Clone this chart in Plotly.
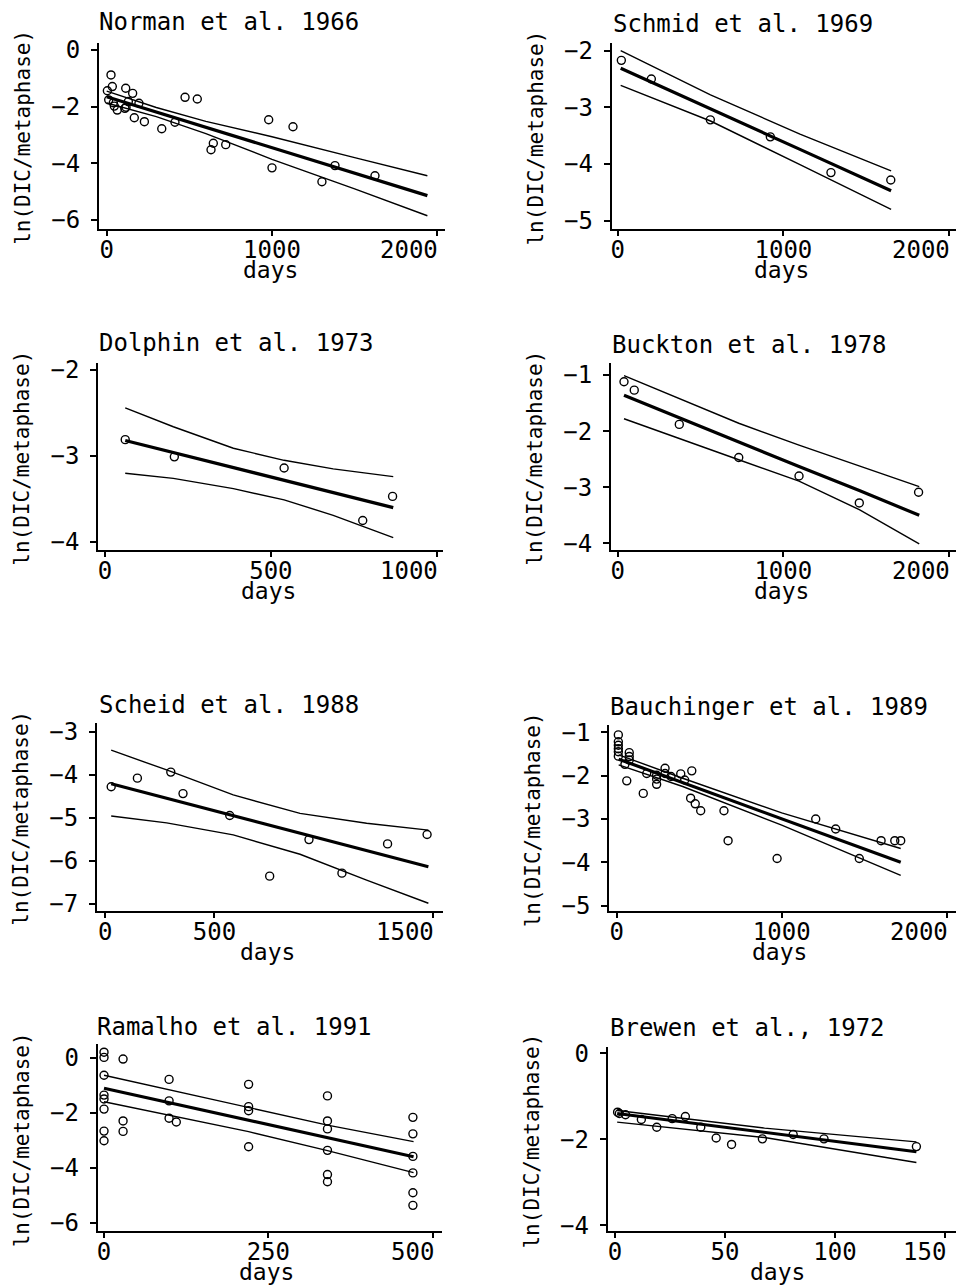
import plotly.graph_objects as go

FONT = "DejaVu Sans Mono"
W, H = 956, 1285

# ---------------- data (days, ln(DIC/metaphase)) ----------------
norman_days = [4, 26, 34, 12, 40, 46, 64, 110, 115, 117, 131, 157, 167, 195, 228, 333, 413,
               474, 548, 631, 645, 720, 980, 1000, 1127, 1302, 1381, 1623]
norman_ln = [-1.44, -0.88, -1.29, -1.76, -1.86, -1.98, -2.12, -2.06, -1.35, -2.02, -1.82, -1.53,
             -2.39, -1.88, -2.53, -2.78, -2.55, -1.67, -1.73, -3.52, -3.29, -3.34, -2.46, -4.16,
             -2.71, -4.65, -4.08, -4.44]
norman_fit_days = [0, 300, 600, 1000, 1500, 1940]
norman_fit = [-1.65, -2.19, -2.73, -3.45, -4.35, -5.14]
norman_upper = [-1.45, -2.03, -2.52, -3.06, -3.80, -4.44]
norman_lower = [-1.87, -2.35, -2.95, -3.86, -4.90, -5.85]

schmid_days = [22, 203, 559, 921, 1287, 1648]
schmid_ln = [-2.17, -2.50, -3.22, -3.52, -4.15, -4.28]
schmid_fit_days = [18, 560, 1100, 1650]
schmid_fit = [-2.31, -3.02, -3.74, -4.47]
schmid_upper = [-2.00, -2.78, -3.47, -4.12]
schmid_lower = [-2.61, -3.24, -4.01, -4.80]

dolphin_days = [61, 209, 540, 777, 867]
dolphin_ln = [-2.81, -3.01, -3.14, -3.75, -3.47]
dolphin_fit_days = [61, 206, 387, 540, 688, 869]
dolphin_fit = [-2.82, -2.96, -3.13, -3.28, -3.42, -3.60]
dolphin_upper = [-2.44, -2.66, -2.91, -3.05, -3.15, -3.24]
dolphin_lower = [-3.20, -3.26, -3.38, -3.51, -3.69, -3.95]

buckton_days = [38, 100, 372, 731, 1095, 1459, 1817]
buckton_ln = [-1.12, -1.27, -1.88, -2.47, -2.80, -3.28, -3.09]
buckton_fit_days = [38, 376, 731, 1095, 1459, 1821]
buckton_fit = [-1.36, -1.77, -2.19, -2.63, -3.06, -3.50]
buckton_upper = [-1.01, -1.42, -1.86, -2.25, -2.62, -2.99]
buckton_lower = [-1.78, -2.14, -2.51, -2.89, -3.40, -4.01]

scheid_days = [27, 147, 300, 356, 570, 753, 933, 1084, 1293, 1474]
scheid_ln = [-4.28, -4.08, -3.94, -4.44, -4.95, -6.36, -5.51, -6.29, -5.61, -5.39]
scheid_fit_days = [27, 281, 586, 892, 1197, 1480]
scheid_fit = [-4.21, -4.55, -4.95, -5.36, -5.77, -6.14]
scheid_upper = [-3.43, -3.89, -4.47, -4.90, -5.13, -5.29]
scheid_lower = [-4.96, -5.12, -5.40, -5.85, -6.45, -6.99]

bauch_days = [10, 10, 10, 10, 10, 10, 50, 61, 76, 76, 76, 161, 182, 242, 242, 242, 293, 293,
              329, 388, 412, 455, 448, 476, 509, 650, 675, 972, 1206, 1327, 1470, 1602, 1685, 1721]
bauch_ln = [-1.06, -1.22, -1.30, -1.38, -1.45, -1.55, -1.74, -2.12, -1.47, -1.56, -1.64, -2.41,
            -1.95, -1.99, -2.20, -2.08, -1.83, -1.95, -2.02, -1.96, -2.10, -1.89, -2.52, -2.65,
            -2.81, -2.81, -3.50, -3.91, -3.00, -3.23, -3.91, -3.50, -3.50, -3.50]
bauch_fit_days = [12, 400, 1000, 1721]
bauch_fit = [-1.62, -2.16, -3.00, -4.00]
bauch_upper = [-1.52, -2.06, -2.86, -3.68]
bauch_lower = [-1.75, -2.25, -3.14, -4.30]

ramalho_days = [0, 0, 0, 0, 0, 0, 0, 0, 29, 29, 29, 99, 99, 99, 110, 220, 220, 220, 220,
                340, 340, 340, 340, 340, 340, 470, 470, 470, 470, 470, 470]
ramalho_ln = [0.20, 0.01, -0.64, -1.36, -1.50, -1.87, -2.67, -3.02, -0.05, -2.30, -2.68,
              -0.79, -1.57, -2.20, -2.34, -0.97, -1.78, -1.93, -3.24, -1.39, -2.30, -2.59,
              -3.37, -4.25, -4.51, -2.17, -2.77, -3.59, -4.19, -4.91, -5.37]
ramalho_fit_days = [0, 220, 340, 471]
ramalho_fit = [-1.11, -2.27, -2.91, -3.60]
ramalho_upper = [-0.64, -1.80, -2.45, -3.05]
ramalho_lower = [-1.60, -2.69, -3.38, -4.18]

brewen_days = [1.2, 2, 4.8, 12, 19, 26, 32, 39, 46, 53, 67, 81, 95, 137]
brewen_ln = [-1.37, -1.40, -1.43, -1.54, -1.72, -1.52, -1.47, -1.72, -1.97, -2.12, -1.99,
             -1.89, -1.99, -2.17]
brewen_fit_days = [1, 68, 137]
brewen_fit = [-1.40, -1.84, -2.29]
brewen_upper = [-1.33, -1.74, -2.06]
brewen_lower = [-1.60, -1.96, -2.54]

titles = ["Norman et al. 1966", "Schmid et al. 1969", "Dolphin et al. 1973",
          "Buckton et al. 1978", "Scheid et al. 1988", "Bauchinger et al. 1989",
          "Ramalho et al. 1991", "Brewen et al., 1972"]
x_ticks = [[0, 1000, 2000], [0, 1000, 2000], [0, 500, 1000], [0, 1000, 2000],
           [0, 500, 1500], [0, 1000, 2000], [0, 250, 500], [0, 50, 100, 150]]
y_ticks = [[0, -2, -4, -6], [-2, -3, -4, -5], [-2, -3, -4], [-1, -2, -3, -4],
           [-3, -4, -5, -6, -7], [-1, -2, -3, -4, -5], [0, -2, -4, -6], [0, -2, -4]]

series = [
    (norman_days, norman_ln, norman_fit_days, norman_fit, norman_upper, norman_lower),
    (schmid_days, schmid_ln, schmid_fit_days, schmid_fit, schmid_upper, schmid_lower),
    (dolphin_days, dolphin_ln, dolphin_fit_days, dolphin_fit, dolphin_upper, dolphin_lower),
    (buckton_days, buckton_ln, buckton_fit_days, buckton_fit, buckton_upper, buckton_lower),
    (scheid_days, scheid_ln, scheid_fit_days, scheid_fit, scheid_upper, scheid_lower),
    (bauch_days, bauch_ln, bauch_fit_days, bauch_fit, bauch_upper, bauch_lower),
    (ramalho_days, ramalho_ln, ramalho_fit_days, ramalho_fit, ramalho_upper, ramalho_lower),
    (brewen_days, brewen_ln, brewen_fit_days, brewen_fit, brewen_upper, brewen_lower),
]

# ---------------- layout (pixel boxes and axis ranges) ----------------
boxes = [(99, 445, 42.7, 229), (611.7, 956, 42.7, 229),
         (98.3, 443.3, 362.7, 550), (611, 956, 363.3, 550),
         (97, 443.3, 722.7, 910.7), (609.3, 956, 725, 911),
         (97.7, 441.7, 1044.3, 1231), (607.7, 956, 1046.7, 1231)]
x_ranges = [(-46.6, 2046.6), (-36.2, 2041.6), (-20.2, 1019.9), (-40.5, 2043),
            (-38, 1548.3), (-44.8, 2056), (-9.6, 513.8), (-3.3, 155)]
y_ranges = [(-6.318, 0.258), (-5.145, -1.859), (-4.093, -1.915), (-4.119, -0.791),
            (-7.163, -2.791), (-5.122, -0.832), (-6.302, 0.487), (-4.133, 0.153)]
title_pos = [(97, 22), (611, 24), (97, 343), (610, 345),
             (97, 705), (608, 707), (95, 1027), (608, 1028)]


def px(x):
    return x / W


def py(y):
    return 1 - y / H


fig = go.Figure()
annotations = []
TICKFONT = dict(family=FONT, size=24, color="black")

for i, (days, ln, fd, fit, up, lo) in enumerate(series):
    n = "" if i == 0 else str(i + 1)
    xa, ya = "x" + n, "y" + n
    for vals, w in ((up, 1.4), (lo, 1.4), (fit, 3.2)):
        fig.add_trace(go.Scatter(x=fd, y=vals, mode="lines", xaxis=xa, yaxis=ya,
                                 line=dict(color="black", width=w), showlegend=False,
                                 hoverinfo="skip"))
    fig.add_trace(go.Scatter(x=days, y=ln, mode="markers", xaxis=xa, yaxis=ya,
                             marker=dict(symbol="circle-open", size=8, color="black",
                                         line=dict(width=1.4, color="black")),
                             showlegend=False))
    x0, x1, y0, y1 = boxes[i]
    xt = x_ticks[i]
    # last tick label is right-aligned to its tick (drawn as an annotation below)
    xtext = [str(v) for v in xt[:-1]] + [""]
    axis_common = dict(showline=True, linecolor="black", linewidth=2, ticks="outside",
                       tickwidth=2, tickcolor="black", showgrid=False, zeroline=False,
                       automargin=False, tickfont=TICKFONT)
    fig.update_layout(**{
        "xaxis" + n: dict(domain=[px(x0), px(x1)], range=list(x_ranges[i]), anchor=ya,
                          tickvals=xt, ticktext=xtext, ticklen=5, ticklabelstandoff=-7,
                          **axis_common),
        "yaxis" + n: dict(domain=[py(y1), py(y0)], range=list(y_ranges[i]), anchor=xa,
                          tickvals=y_ticks[i], ticklen=6, ticklabelstandoff=6,
                          **axis_common),
    })
    annotations.append(dict(text=str(xt[-1]), x=xt[-1], xref=xa, y=py(y1 + 21), yref="paper",
                            xanchor="right", yanchor="middle", xshift=3, showarrow=False,
                            font=TICKFONT))
    tx, ty = title_pos[i]
    annotations.append(dict(text=titles[i], x=px(tx), y=py(ty), xref="paper", yref="paper",
                            xanchor="left", yanchor="middle", showarrow=False,
                            font=dict(family=FONT, size=24, color="black")))
    # x-axis title
    fx0 = x0 + (0 - x_ranges[i][0]) / (x_ranges[i][1] - x_ranges[i][0]) * (x1 - x0)
    fx1 = x0 + (xt[-1] - x_ranges[i][0]) / (x_ranges[i][1] - x_ranges[i][0]) * (x1 - x0)
    annotations.append(dict(text="days", x=px((fx0 + fx1) / 2 - 2), y=py(y1 + 41),
                            xref="paper", yref="paper", xanchor="center", yanchor="middle",
                            showarrow=False, font=dict(family=FONT, size=23, color="black")))
    # y-axis title
    annotations.append(dict(text="ln(DIC/metaphase)", x=px(x0 - 76), y=py((y0 + y1) / 2 + 2),
                            xref="paper", yref="paper", xanchor="center", yanchor="middle",
                            textangle=-90, showarrow=False,
                            font=dict(family=FONT, size=21, color="black")))

fig.update_layout(width=W, height=H, margin=dict(l=0, r=0, t=0, b=0, autoexpand=False),
                  paper_bgcolor="white", plot_bgcolor="white",
                  annotations=annotations, showlegend=False,
                  font=dict(family=FONT, color="black"))

fig.write_html("out.html")
